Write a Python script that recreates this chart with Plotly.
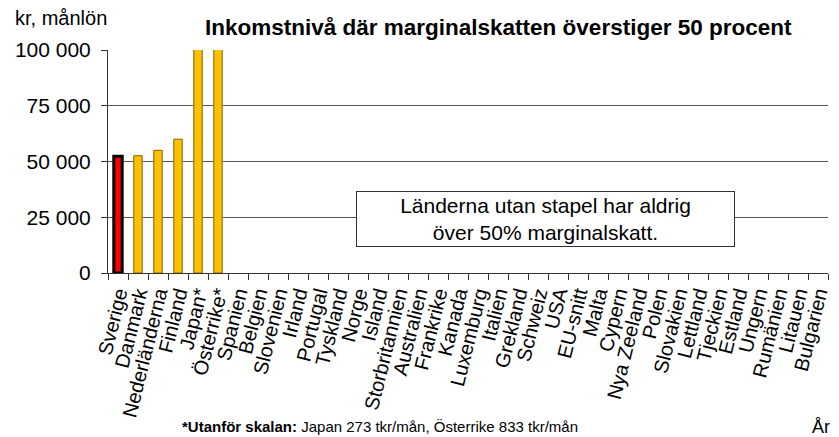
import plotly.graph_objects as go

# Inkomstnivå (kr/månad) där marginalskatten överstiger 50 procent
countries = ["Sverige", "Danmark", "Nederländerna", "Finland", "Japan*", "Österrike*",
             "Spanien", "Belgien", "Slovenien", "Irland", "Portugal", "Tyskland", "Norge",
             "Island", "Storbritannien", "Australien", "Frankrike", "Kanada", "Luxemburg",
             "Italien", "Grekland", "Schweiz", "USA", "EU-snitt", "Malta", "Cypern",
             "Nya Zeeland", "Polen", "Slovakien", "Lettland", "Tjeckien", "Estland",
             "Ungern", "Rumänien", "Litauen", "Bulgarien"]
values = [52300, 52600, 55000, 60000, 273000, 833000] + [None] * 30
y_ticks = [0, 25000, 50000, 75000, 100000]
y_labels = ["0", "25 000", "50 000", "75 000", "100 000"]

bar_colors = ["#FF0000"] + ["#FFC000"] * (len(countries) - 1)
line_colors = ["#000000"] + ["#7F6000"] * (len(countries) - 1)
line_widths = [3] + [1] * (len(countries) - 1)

fig = go.Figure(go.Bar(
    x=countries, y=values,
    marker=dict(color=bar_colors, line=dict(color=line_colors, width=line_widths)),
    width=0.42,
))

font = "Liberation Sans, Arial, sans-serif"
# sidan har 8 px marginal i body, därför 831x429
fig.update_layout(
    width=831, height=429,
    margin=dict(l=100, r=7, t=42, b=164),
    paper_bgcolor="white", plot_bgcolor="white",
    showlegend=False,
    font=dict(family=font, color="#000000"),
)
fig.update_yaxes(
    range=[0, 100000], tickvals=y_ticks, ticktext=y_labels,
    showgrid=True, gridcolor="#555555", gridwidth=1,
    showline=True, linecolor="#333333", linewidth=1,
    ticks="outside", ticklen=6, tickcolor="#333333", ticklabelstandoff=6,
    tickfont=dict(size=21, family=font), zeroline=False,
)
fig.update_xaxes(
    type="category", tickmode="array", tickvals=countries, ticktext=countries,
    tickangle=-76, tickson="boundaries",
    showline=True, linecolor="#333333", linewidth=1,
    ticks="outside", ticklen=6, tickcolor="#333333",
    tickfont=dict(size=20, family=font), showgrid=False,
)

fig.add_annotation(text="kr, månlön", xref="paper", yref="paper", x=-0.132, y=1.085,
                   xanchor="left", yanchor="bottom", showarrow=False,
                   font=dict(size=20, family=font))
fig.add_annotation(text="<b>Inkomstnivå där marginalskatten överstiger 50 procent</b>",
                   xref="paper", yref="paper", x=0.542, y=1.035,
                   xanchor="center", yanchor="bottom", showarrow=False,
                   font=dict(size=22.5, family=font))
fig.add_annotation(text="Länderna utan stapel har aldrig<br>över 50% marginalskatt.",
                   xref="paper", yref="paper", x=0.607, y=0.24,
                   xanchor="center", yanchor="middle", showarrow=False,
                   font=dict(size=21, family=font),
                   bgcolor="white", bordercolor="#333333", borderwidth=1,
                   width=375, height=52)
fig.add_annotation(text="<b>*Utanför skalan:</b> Japan 273 tkr/mån, Österrike 833 tkr/mån",
                   xref="paper", yref="paper", x=0.10, y=-0.69,
                   xanchor="left", yanchor="middle", showarrow=False,
                   font=dict(size=15, family=font))
fig.add_annotation(text="År 2017", xref="paper", yref="paper", x=0.975, y=-0.69,
                   xanchor="left", yanchor="middle", showarrow=False,
                   font=dict(size=18, family=font))

fig.write_html("out.html")
